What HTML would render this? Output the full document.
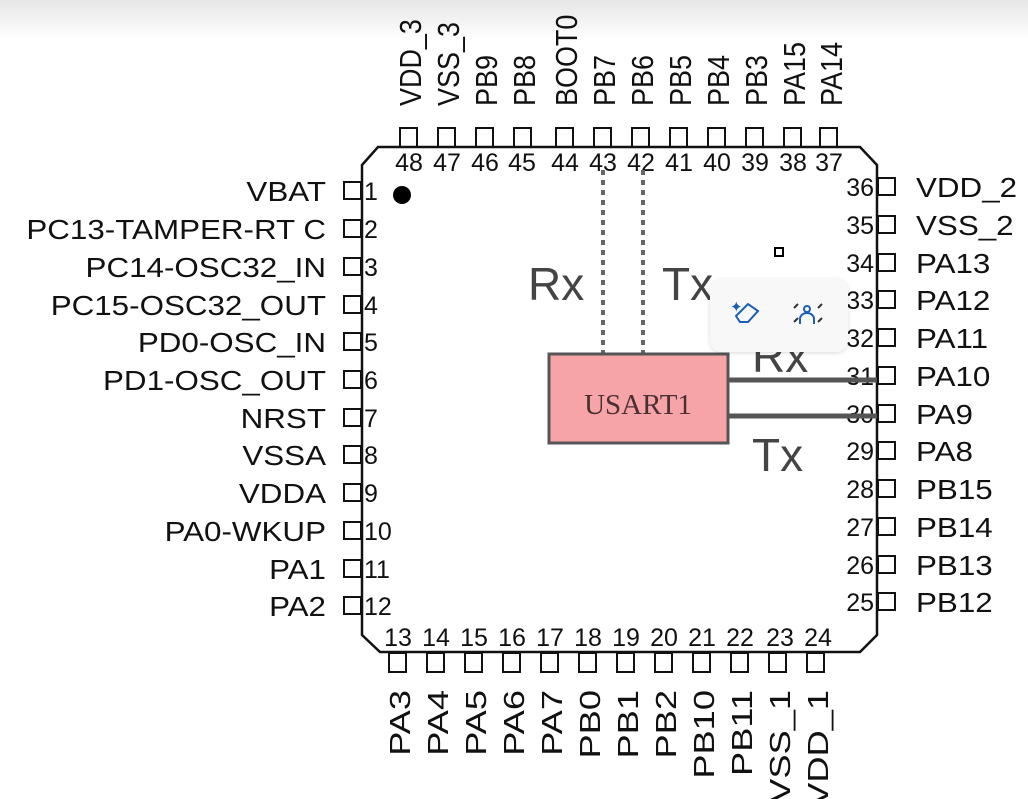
<!DOCTYPE html>
<html><head><meta charset="utf-8"><style>
html,body{margin:0;padding:0;background:#fff;}
svg{display:block;}
text{font-family:"Liberation Sans",Arial,sans-serif;fill:#111;}
</style></head><body>
<svg width="1028" height="799" viewBox="0 0 1028 799" xmlns="http://www.w3.org/2000/svg">
<defs>
<linearGradient id="g" x1="0" y1="0" x2="0" y2="1"><stop offset="0" stop-color="#e6e6e6"/><stop offset="1" stop-color="#ffffff"/></linearGradient>
<filter id="sh" x="-20%" y="-20%" width="140%" height="140%"><feDropShadow dx="0" dy="1" stdDeviation="2" flood-color="#000" flood-opacity="0.15"/></filter>
</defs>
<rect x="0" y="0" width="1028" height="40" fill="url(#g)"/>
<path d="M378,147 L860,147 L877,165 L877,635 L860,652 L380,652 L362,635 L362,165 Z" fill="none" stroke="#111" stroke-width="2.5"/>
<circle cx="402" cy="195" r="9" fill="#000"/>
<g fill="none" stroke="#111" stroke-width="2">
<rect x="400" y="128" width="17" height="19"/><rect x="438" y="128" width="17" height="19"/><rect x="476" y="128" width="17" height="19"/><rect x="514" y="128" width="17" height="19"/><rect x="556" y="128" width="17" height="19"/><rect x="594" y="128" width="17" height="19"/><rect x="632" y="128" width="17" height="19"/><rect x="670" y="128" width="17" height="19"/><rect x="708" y="128" width="17" height="19"/><rect x="746" y="128" width="17" height="19"/><rect x="784" y="128" width="17" height="19"/><rect x="820" y="128" width="17" height="19"/>
<rect x="389" y="653" width="17" height="19"/><rect x="427" y="653" width="17" height="19"/><rect x="465" y="653" width="17" height="19"/><rect x="503" y="653" width="17" height="19"/><rect x="541" y="653" width="17" height="19"/><rect x="579" y="653" width="17" height="19"/><rect x="617" y="653" width="17" height="19"/><rect x="655" y="653" width="17" height="19"/><rect x="693" y="653" width="17" height="19"/><rect x="731" y="653" width="17" height="19"/><rect x="769" y="653" width="17" height="19"/><rect x="807" y="653" width="17" height="19"/>
<rect x="344" y="182" width="17" height="17"/><rect x="344" y="220" width="17" height="17"/><rect x="344" y="258" width="17" height="17"/><rect x="344" y="296" width="17" height="17"/><rect x="344" y="333" width="17" height="17"/><rect x="344" y="371" width="17" height="17"/><rect x="344" y="409" width="17" height="17"/><rect x="344" y="446" width="17" height="17"/><rect x="344" y="484" width="17" height="17"/><rect x="344" y="522" width="17" height="17"/><rect x="344" y="560" width="17" height="17"/><rect x="344" y="597" width="17" height="17"/>
<rect x="878" y="178" width="17" height="17"/><rect x="878" y="216" width="17" height="17"/><rect x="878" y="254" width="17" height="17"/><rect x="878" y="291" width="17" height="17"/><rect x="878" y="329" width="17" height="17"/><rect x="878" y="367" width="17" height="17"/><rect x="878" y="405" width="17" height="17"/><rect x="878" y="442" width="17" height="17"/><rect x="878" y="480" width="17" height="17"/><rect x="878" y="518" width="17" height="17"/><rect x="878" y="556" width="17" height="17"/><rect x="878" y="593" width="17" height="17"/>
</g>
<g font-size="31">
<text transform="translate(421,106) rotate(-90) scale(0.87,1)">VDD_3</text>
<text transform="translate(459,106) rotate(-90) scale(0.87,1)">VSS_3</text>
<text transform="translate(497,106) rotate(-90) scale(0.87,1)">PB9</text>
<text transform="translate(535,106) rotate(-90) scale(0.87,1)">PB8</text>
<text transform="translate(577,106) rotate(-90) scale(0.87,1)">BOOT0</text>
<text transform="translate(615,106) rotate(-90) scale(0.87,1)">PB7</text>
<text transform="translate(653,106) rotate(-90) scale(0.87,1)">PB6</text>
<text transform="translate(691,106) rotate(-90) scale(0.87,1)">PB5</text>
<text transform="translate(729,106) rotate(-90) scale(0.87,1)">PB4</text>
<text transform="translate(767,106) rotate(-90) scale(0.87,1)">PB3</text>
<text transform="translate(805,106) rotate(-90) scale(0.87,1)">PA15</text>
<text transform="translate(842,106) rotate(-90) scale(0.87,1)">PA14</text>
</g>
<g font-size="29" text-anchor="end">
<text transform="translate(410,690) rotate(-90) scale(1.25,1)">PA3</text>
<text transform="translate(448,690) rotate(-90) scale(1.25,1)">PA4</text>
<text transform="translate(486,690) rotate(-90) scale(1.25,1)">PA5</text>
<text transform="translate(524,690) rotate(-90) scale(1.25,1)">PA6</text>
<text transform="translate(562,690) rotate(-90) scale(1.25,1)">PA7</text>
<text transform="translate(600,690) rotate(-90) scale(1.25,1)">PB0</text>
<text transform="translate(638,690) rotate(-90) scale(1.25,1)">PB1</text>
<text transform="translate(676,690) rotate(-90) scale(1.25,1)">PB2</text>
<text transform="translate(714,690) rotate(-90) scale(1.25,1)">PB10</text>
<text transform="translate(752,690) rotate(-90) scale(1.25,1)">PB11</text>
<text transform="translate(790,690) rotate(-90) scale(1.25,1)">VSS_1</text>
<text transform="translate(828,690) rotate(-90) scale(1.25,1)">VDD_1</text>
</g>
<g font-size="25" text-anchor="middle">
<text x="409" y="171">48</text><text x="447" y="171">47</text><text x="485" y="171">46</text><text x="522" y="171">45</text><text x="565" y="171">44</text><text x="603" y="171">43</text><text x="641" y="171">42</text><text x="679" y="171">41</text><text x="717" y="171">40</text><text x="755" y="171">39</text><text x="793" y="171">38</text><text x="829" y="171">37</text>
<text x="398" y="646">13</text><text x="436" y="646">14</text><text x="474" y="646">15</text><text x="512" y="646">16</text><text x="550" y="646">17</text><text x="588" y="646">18</text><text x="626" y="646">19</text><text x="664" y="646">20</text><text x="702" y="646">21</text><text x="740" y="646">22</text><text x="780" y="646">23</text><text x="818" y="646">24</text>
</g>
<g font-size="25">
<text x="364" y="200">1</text><text x="364" y="238">2</text><text x="364" y="276">3</text><text x="364" y="314">4</text><text x="364" y="351">5</text><text x="364" y="389">6</text><text x="364" y="427">7</text><text x="364" y="464">8</text><text x="364" y="502">9</text><text x="364" y="540">10</text><text x="364" y="578">11</text><text x="364" y="615">12</text>
</g>
<g font-size="25" text-anchor="end">
<text x="874" y="196">36</text><text x="874" y="234">35</text><text x="874" y="272">34</text><text x="874" y="309">33</text><text x="874" y="347">32</text><text x="874" y="385">31</text><text x="874" y="423">30</text><text x="874" y="460">29</text><text x="874" y="498">28</text><text x="874" y="536">27</text><text x="874" y="574">26</text><text x="874" y="611">25</text>
</g>
<g font-size="28" text-anchor="end" transform="translate(326,0) scale(1.12,1)">
<text x="0" y="201">VBAT</text><text x="0" y="239">PC13-TAMPER-RT C</text><text x="0" y="277">PC14-OSC32_IN</text><text x="0" y="315">PC15-OSC32_OUT</text><text x="0" y="352">PD0-OSC_IN</text><text x="0" y="390">PD1-OSC_OUT</text><text x="0" y="428">NRST</text><text x="0" y="465">VSSA</text><text x="0" y="503">VDDA</text><text x="0" y="541">PA0-WKUP</text><text x="0" y="579">PA1</text><text x="0" y="616">PA2</text>
</g>
<g font-size="28" transform="translate(916,0) scale(1.12,1)">
<text x="0" y="197">VDD_2</text><text x="0" y="235">VSS_2</text><text x="0" y="273">PA13</text><text x="0" y="310">PA12</text><text x="0" y="348">PA11</text><text x="0" y="386">PA10</text><text x="0" y="424">PA9</text><text x="0" y="461">PA8</text><text x="0" y="499">PB15</text><text x="0" y="537">PB14</text><text x="0" y="575">PB13</text><text x="0" y="612">PB12</text>
</g>
<line x1="603" y1="170" x2="603" y2="354" stroke="#666" stroke-width="4" stroke-dasharray="5,5"/>
<line x1="643" y1="170" x2="643" y2="354" stroke="#666" stroke-width="4" stroke-dasharray="5,5"/>
<rect x="549" y="354" width="179" height="89" fill="#f7a4a8" stroke="#555" stroke-width="3"/>
<text x="638" y="414" font-size="29" text-anchor="middle" style="font-family:'Liberation Serif',serif;fill:#4a3030">USART1</text>
<line x1="728" y1="380" x2="877" y2="380" stroke="#555" stroke-width="5"/>
<line x1="728" y1="416" x2="877" y2="416" stroke="#555" stroke-width="5"/>
<g font-size="46">
<text x="528" y="300" style="fill:#444">Rx</text>
<text x="662" y="300" style="fill:#444">Tx</text>
<text x="752" y="372" style="fill:#444">Rx</text>
<text x="752" y="471" style="fill:#444">Tx</text>
</g>
<rect x="710" y="279" width="138" height="73" rx="12" fill="#f8f8f8" filter="url(#sh)"/>
<g stroke="#1a5fb4" stroke-width="2" fill="none">
<path d="M736,316 l12,-12 l10,7 l-10,11 h-8 z"/>
<path d="M800,324 v-5 a7,6 0 0 1 14,0 v5"/>
<circle cx="807" cy="309" r="3"/>
<path d="M798,304 l-4,4 M822,304 l-4,4 M798,318 l-4,4 M822,318 l-4,4" stroke="#333"/>
</g>
<text x="730" y="312" font-size="15" style="fill:#1a5fb4">✦</text>
<rect x="775" y="248" width="8" height="8" fill="#fff" stroke="#000" stroke-width="2"/>
</svg>
</body></html>
